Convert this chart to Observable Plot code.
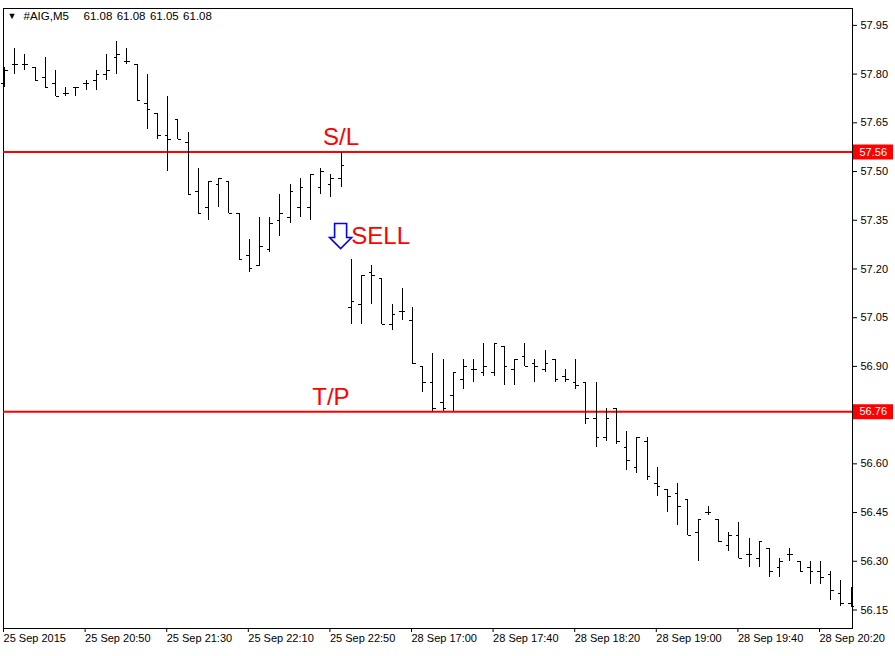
<!DOCTYPE html>
<html>
<head>
<meta charset="utf-8">
<script src="https://cdn.jsdelivr.net/npm/d3@7"></script>
<script src="https://cdn.jsdelivr.net/npm/@observablehq/plot@0.6"></script>
<style>
  html, body { margin: 0; padding: 0; background: #fff; }
  #chart svg { display: block; font-family: "Liberation Sans", Arial, sans-serif; }
</style>
</head>
<body>
<div id="chart"></div>
<script>
// ---- Data ----
const opens  = [57.77,57.83,57.83,57.82,57.79,57.77,57.74,57.76,57.77,57.78,57.80,57.85,57.84,57.83,57.71,57.68,57.61,57.66,57.59,57.44,
                57.39,57.46,57.47,57.37,57.24,57.21,57.26,57.35,57.36,57.39,57.39,57.45,57.46,57.48,57.08,57.09,57.19,57.17,57.03,57.07,
                57.04,56.90,56.85,56.79,56.81,56.86,56.89,56.88,56.88,56.96,56.89,56.93,56.91,56.89,56.92,56.87,56.85,56.85,56.74,56.68,
                56.77,56.65,56.59,56.67,56.54,56.52,56.51,56.49,56.39,56.45,56.43,56.35,56.38,56.32,56.31,56.34,56.28,56.32,56.30,56.28,
                56.27,56.26,56.20,56.17];
const highs  = [57.82,57.88,57.86,57.82,57.85,57.81,57.76,57.76,57.78,57.81,57.86,57.90,57.88,57.83,57.80,57.68,57.73,57.66,57.62,57.51,
                57.47,57.48,57.47,57.37,57.29,57.36,57.36,57.43,57.46,57.48,57.49,57.51,57.49,57.56,57.23,57.18,57.21,57.17,57.09,57.14,
                57.08,56.90,56.94,56.92,56.88,56.92,56.92,56.97,56.97,56.96,56.92,56.97,56.92,56.95,56.92,56.89,56.92,56.85,56.85,56.77,
                56.77,56.70,56.68,56.68,56.59,56.52,56.54,56.49,56.43,56.47,56.43,56.39,56.42,56.37,56.36,56.34,56.31,56.34,56.30,56.30,
                56.30,56.27,56.24,56.22];
const lows   = [57.76,57.80,57.81,57.78,57.76,57.73,57.73,57.73,57.75,57.75,57.78,57.80,57.83,57.72,57.63,57.60,57.50,57.60,57.43,57.37,
                57.35,57.39,57.37,57.23,57.19,57.21,57.25,57.30,57.34,57.36,57.35,57.43,57.42,57.45,57.03,57.03,57.09,57.03,57.01,57.04,
                56.91,56.82,56.76,56.76,56.76,56.83,56.85,56.87,56.87,56.84,56.84,56.90,56.85,56.88,56.85,56.85,56.83,56.72,56.65,56.67,
                56.66,56.58,56.57,56.55,56.50,56.45,56.41,56.38,56.30,56.44,56.36,56.33,56.31,56.28,56.28,56.25,56.25,56.30,56.27,56.23,
                56.23,56.18,56.16,56.16];
const closes = [57.81,57.83,57.83,57.78,57.76,57.73,57.74,57.76,57.77,57.80,57.81,57.86,57.84,57.72,57.69,57.61,57.60,57.60,57.43,57.37,
                57.47,57.48,57.37,57.23,57.20,57.27,57.34,57.37,57.44,57.45,57.49,57.50,57.48,57.52,57.10,57.18,57.18,57.03,57.06,57.07,
                56.91,56.85,56.77,56.77,56.88,56.90,56.89,56.90,56.97,56.90,56.92,56.90,56.90,56.91,56.86,56.86,56.84,56.74,56.68,56.74,
                56.67,56.61,56.68,56.56,56.53,56.50,56.47,56.38,56.43,56.45,56.36,56.38,56.31,56.32,56.36,56.27,56.30,56.32,56.27,56.27,
                56.25,56.21,56.17,56.16];

const timeTickBars = [0, 8, 16, 24, 32, 40, 48, 56, 64, 72, 80];
const timeLabels = ["25 Sep 2015","25 Sep 20:50","25 Sep 21:30","25 Sep 22:10","25 Sep 22:50",
                    "28 Sep 17:00","28 Sep 17:40","28 Sep 18:20","28 Sep 19:00","28 Sep 19:40","28 Sep 20:20"];
const priceTicks = [57.95,57.80,57.65,57.50,57.35,57.20,57.05,56.90,56.60,56.45,56.30,56.15];

const levelPrices = [57.56, 56.76];
const levelNames  = ["S/L", "T/P"];
const levelLabelBars = [33, 32];

const signalName = "SELL";
const signalBar = 33;
const signalPrice = 57.30;

const titleSymbol = "#AIG,M5";
const titleValues = ["61.08", "61.08", "61.05", "61.08"];

// ---- Build table ----
const bars = opens.map((o, i) => ({i, open: o, high: highs[i], low: lows[i], close: closes[i]}));
const levels = levelPrices.map((p, k) => ({price: p, name: levelNames[k], bar: levelLabelBars[k]}));

const xDomain = [-0.1, 83.14];
const barsPerPx = (xDomain[1] - xDomain[0]) / 849;
const tagX1 = xDomain[1] + 1 * barsPerPx;
const tagX2 = xDomain[1] + 41 * barsPerPx;
const tickHalf = 0.3;
const RED = "#ff0000";

// hollow down-arrow symbol (MetaTrader "sell" arrow)
const downArrow = {
  draw(context, size) {
    const r = Math.sqrt(size / Math.PI) / 11;
    const pts = [[-6,-13],[6,-13],[6,1],[11,1],[0,12],[-11,1],[-6,1]];
    context.moveTo(pts[0][0] * r, pts[0][1] * r);
    for (let k = 1; k < pts.length; ++k) context.lineTo(pts[k][0] * r, pts[k][1] * r);
    context.closePath();
  }
};

const chart = Plot.plot({
  width: 895,
  height: 656,
  marginLeft: 3,
  marginRight: 43,
  marginTop: 8,
  marginBottom: 28,
  style: {fontFamily: "Liberation Sans, Arial, sans-serif", fontSize: "11px", background: "#fff"},
  x: {type: "linear", domain: xDomain, axis: null},
  y: {type: "linear", domain: [56.093, 58.002], axis: null},
  marks: [
    Plot.frame({stroke: "#000"}),
    // level lines
    Plot.ruleY(levels, {y: "price", stroke: RED, strokeWidth: 2}),
    // OHLC bars
    Plot.ruleX(bars, {x: "i", y1: "low", y2: "high", stroke: "#000", strokeWidth: 1, shapeRendering: "crispEdges"}),
    Plot.link(bars, {x1: d => d.i - tickHalf, x2: "i", y1: "open", y2: "open", stroke: "#000", strokeWidth: 1, shapeRendering: "crispEdges"}),
    Plot.link(bars, {x1: "i", x2: d => d.i + tickHalf, y1: "close", y2: "close", stroke: "#000", strokeWidth: 1, shapeRendering: "crispEdges"}),
    // level names
    Plot.text(levels, {x: "bar", y: "price", text: "name", fill: RED, fontSize: 24, textAnchor: "middle", lineAnchor: "bottom", dy: -7, fontFamily: "Liberation Sans, Arial, sans-serif"}),
    // signal
    Plot.dot([signalPrice], {x: signalBar, y: d => d, symbol: downArrow, r: 11, stroke: "#0000ff", strokeWidth: 1.6, fill: "#fff", dx: -0.5}),
    Plot.text([signalName], {x: signalBar + 1, y: signalPrice, text: d => d, fill: RED, fontSize: 24, textAnchor: "start", dx: 0, fontFamily: "Liberation Sans, Arial, sans-serif"}),
    // axes
    Plot.axisY({anchor: "right", ticks: priceTicks, tickSize: 4, tickPadding: 4, tickFormat: d => d.toFixed(2), label: null, fontSize: 11}),
    Plot.axisX({anchor: "bottom", ticks: timeTickBars, tickSize: 4, tickPadding: 2, textAnchor: "start", dx: -1,
                tickFormat: d => timeLabels[timeTickBars.indexOf(d)], label: null, fontSize: 11}),
    // price tags on the right axis
    Plot.ruleY(levels, {y: "price", x1: tagX1, x2: tagX2, stroke: RED, strokeWidth: 15, clip: false}),
    Plot.text(levels, {x: tagX1, y: "price", text: d => d.price.toFixed(2), fill: "#fff", textAnchor: "start", dx: 6, fontSize: 11}),
    // title
    Plot.text(["\u25BC"], {frameAnchor: "top-left", text: d => d, dx: 4, dy: 4, fontSize: 9, textAnchor: "start", fill: "#000"}),
    Plot.text([titleSymbol], {frameAnchor: "top-left", text: d => d, dx: 20, dy: 3, fontSize: 11.5, textAnchor: "start", fill: "#000"}),
    ...titleValues.map((v, k) => Plot.text([v], {frameAnchor: "top-left", text: d => d, dx: 80 + k * 33.2, dy: 3, fontSize: 11.5, textAnchor: "start", fill: "#000"}))
  ]
});

document.getElementById("chart").appendChild(chart);
</script>
</body>
</html>
